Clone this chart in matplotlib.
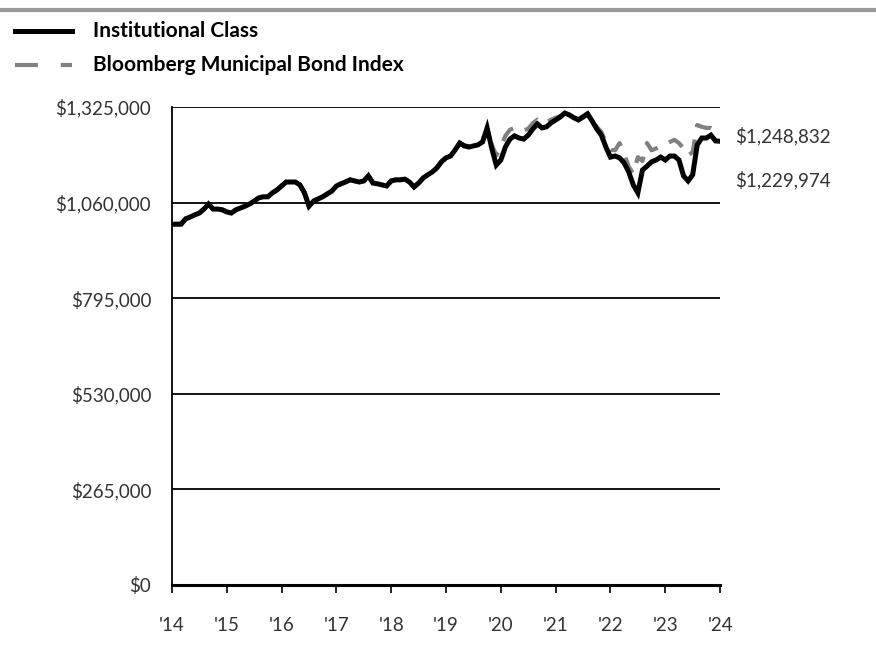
import numpy as np
import matplotlib
matplotlib.use('Agg')
import matplotlib.pyplot as plt
from matplotlib.lines import Line2D
from matplotlib.ticker import FuncFormatter

# monthly values, Jan 2014 .. Jan 2024 (in $)
inst = np.array([
  1000, 1000, 1000, 1015, 1020, 1026, 1031, 1042, 1056, 1042, 1042, 1040,
  1034, 1031, 1040, 1045, 1050, 1056, 1064, 1073, 1076, 1076, 1087, 1095,
  1106, 1117, 1117, 1117, 1109, 1087, 1050, 1064, 1070, 1076, 1084, 1092,
  1106, 1112, 1117, 1123, 1120, 1117, 1120, 1134, 1114, 1112, 1109, 1106,
  1120, 1123, 1123, 1125, 1117, 1103, 1114, 1128, 1137, 1145, 1156, 1173,
  1184, 1189, 1206, 1225, 1217, 1214, 1217, 1220, 1228, 1267, 1211, 1164,
  1178, 1214, 1236, 1245, 1239, 1236, 1247, 1264, 1278, 1267, 1270, 1281,
  1289, 1297, 1308, 1303, 1295, 1289, 1297, 1306, 1286, 1264, 1247, 1214,
  1186, 1189, 1184, 1170, 1145, 1109, 1087, 1150, 1161, 1173, 1178, 1186,
  1178, 1189, 1189, 1178, 1134, 1120, 1137, 1220, 1239, 1239, 1247, 1231,
  1229.974]) * 1000

index = np.array([
  1000, 1001, 1002, 1016, 1021, 1027, 1032, 1043, 1055, 1043, 1043, 1041,
  1035, 1032, 1040, 1046, 1051, 1057, 1065, 1073, 1077, 1077, 1088, 1096,
  1107, 1117, 1118, 1118, 1110, 1090, 1055, 1066, 1071, 1077, 1085, 1093,
  1107, 1113, 1118, 1124, 1121, 1118, 1121, 1134, 1116, 1113, 1110, 1108,
  1121, 1124, 1124, 1126, 1118, 1105, 1115, 1129, 1138, 1146, 1157, 1174,
  1185, 1190, 1207, 1226, 1219, 1216, 1219, 1222, 1230, 1262, 1222, 1190,
  1215, 1245, 1262, 1267, 1267, 1260, 1265, 1280, 1290, 1280, 1282, 1290,
  1295, 1300, 1308, 1303, 1297, 1292, 1300, 1308, 1290, 1270, 1256, 1226,
  1206, 1205, 1225, 1195, 1160, 1140, 1186, 1175, 1225, 1205, 1210, 1215,
  1222, 1228, 1234, 1225, 1210, 1190, 1200, 1275, 1270, 1267, 1267, 1260,
  1248.832]) * 1000

years = np.arange(2014, 2025)
year_labels = ["'%d" % (y % 100) for y in years]
yticks = np.arange(0, 1325001, 265000)
names = ['Institutional Class', 'Bloomberg Municipal Bond Index']

x = 2014 + np.arange(len(inst)) / 12.0

plt.rcParams['font.family'] = ['Lato', 'DejaVu Sans']

fig = plt.figure(figsize=(8.76, 6.72), dpi=100)
ax = fig.add_axes([0.1963, 0.1295, 0.6257, 0.7113])

ax.plot(x, index, color='#808080', lw=3.0, dashes=(4, 3), solid_capstyle='butt', zorder=3)
ax.plot(x, inst, color='black', lw=3.6, solid_joinstyle='miter', zorder=4)

ax.set_ylim(0, 1325000)
ax.set_xlim(2014, 2024)
ax.set_yticks(yticks)
ax.yaxis.set_major_formatter(FuncFormatter(lambda v, p: '$' + format(int(v), ',')))
ax.set_xticks(years)
ax.set_xticklabels(year_labels)
ax.grid(axis='y', color='black', lw=1.3)
ax.set_axisbelow(True)
for s in ['top', 'right']:
  ax.spines[s].set_visible(False)
ax.spines['left'].set_linewidth(1.3)
ax.spines['bottom'].set_linewidth(2.2)
ax.tick_params(axis='y', length=0, pad=15, labelsize=13.5)
ax.tick_params(axis='x', length=6, width=1.2, direction='out', pad=17, labelsize=13.5)
for t in ax.get_xticklabels() + ax.get_yticklabels():
  t.set_color('#333333')

# end value labels
ax.annotate('$' + format(int(round(index[-1])), ','), xy=(x[-1], index[-1]), xytext=(15, -2),
            textcoords='offset pixels', ha='left', va='center', fontsize=13.5, color='#333333',
            annotation_clip=False)
ax.annotate('$' + format(int(round(inst[-1])), ','), xy=(x[-1], inst[-1]), xytext=(15, -39),
            textcoords='offset pixels', ha='left', va='center', fontsize=13.5, color='#333333',
            annotation_clip=False)

# top rule and legend
fig.add_artist(Line2D([0, 1], [1 - 10/672, 1 - 10/672], color='#999999', lw=3))
fig.add_artist(Line2D([15/876, 72/876], [1 - 31/672, 1 - 31/672], color='black', lw=3.6))
fig.add_artist(Line2D([15/876, 72/876], [1 - 65/672, 1 - 65/672], color='#808080', lw=3.0,
                      dashes=(5.5, 5.5)))
fig.text(93/876, 1 - 31/672, names[0], fontsize=15, fontweight='bold', va='center', ha='left')
fig.text(93/876, 1 - 65/672, names[1], fontsize=15, fontweight='bold', va='center', ha='left')

fig.savefig('out.png', dpi=100)
